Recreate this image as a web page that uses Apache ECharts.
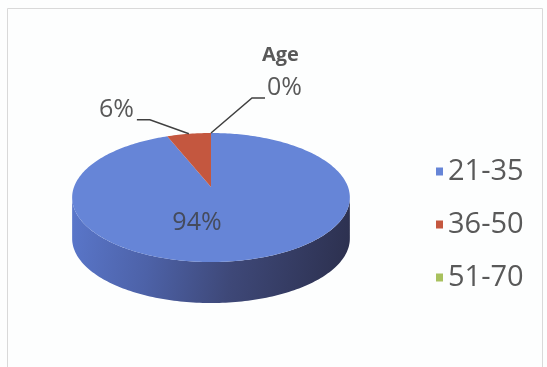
<!DOCTYPE html>
<html><head><meta charset="utf-8">
<script src="https://cdn.jsdelivr.net/npm/echarts@6/dist/echarts.min.js"></script>
<style>html,body{margin:0;padding:0;background:#fdfefe}#c{width:547px;height:367px}</style>
</head><body><div id="c"></div>
<script>
const title = 'Age';
const categories = ['21-35', '36-50', '51-70'];
const values = [94, 6, 0];
const colors = ['#6685d7', '#c4573f', '#a8c15e'];

const FONT = '"Open Sans", sans-serif';
const TEXT = '#595959';
// perspective pie layout: apex (cx,cy), radii, perspective factor, thickness
const PIE = { cx: 211, cy: 187, rx: 137, ry: 62.8, p: 0.163, depth: 41 };
const total = values.reduce((a, b) => a + b, 0);
const starts = [];
let acc = 0;
values.forEach(v => { starts.push(acc); acc += v; });

function pt(th, dy) {
  const f = 1 + PIE.p * Math.cos(th);
  return [PIE.cx + PIE.rx * Math.sin(th) / f, PIE.cy - PIE.ry * Math.cos(th) / f + (dy || 0)];
}
function arc(a, b, dy) {
  const n = Math.max(2, Math.ceil(Math.abs(b - a) / 0.02));
  const out = [];
  for (let k = 0; k <= n; k++) out.push(pt(a + (b - a) * k / n, dy));
  return out;
}
function sideFill() {
  return new echarts.graphic.LinearGradient(0, 0, 1, 0.4, [
    { offset: 0, color: '#5a77cb' },
    { offset: 0.3, color: '#4d62a8' },
    { offset: 0.6, color: '#3e4878' },
    { offset: 1, color: '#2d3150' }
  ]);
}
const FRONT0 = Math.acos(-PIE.p), FRONT1 = 2 * Math.PI - Math.acos(-PIE.p);

function renderItem(params, api) {
  const i = params.dataIndex;
  const v = api.value(0);
  const a = starts[i] / total * 2 * Math.PI;
  const b = (starts[i] + v) / total * 2 * Math.PI;
  const children = [];
  const s = Math.max(a, FRONT0), e = Math.min(b, FRONT1);
  if (e > s) {
    children.push({ type: 'polygon', z2: 1,
      shape: { points: arc(s, e, 0).concat(arc(e, s, PIE.depth)) },
      style: { fill: sideFill() } });
  }
  if (b > a) {
    children.push({ type: 'polygon', z2: 2,
      shape: { points: [[PIE.cx, PIE.cy]].concat(arc(a, b, 0)) },
      style: { fill: colors[i] } });
  }
  const pct = Math.round(v / total * 100) + '%';
  const mid = (a + b) / 2;
  if (v / total > 0.5) {
    children.push({ type: 'text', z2: 5, style: { text: pct, x: PIE.cx - 14, y: PIE.cy + 36,
      align: 'center', verticalAlign: 'middle', font: '25px ' + FONT, fill: '#454b5c' } });
  } else {
    const p0 = pt(mid, 0);
    const left = Math.sin(mid) < -1e-6;
    const p1 = left ? [p0[0] - 39, p0[1] - 14] : [p0[0] + 41, p0[1] - 35];
    const p2 = left ? [p1[0] - 13, p1[1]] : [p1[0] + 13, p1[1]];
    children.push({ type: 'polyline', z2: 4, shape: { points: [p0, p1, p2] },
      style: { stroke: '#404040', lineWidth: 1.5, fill: null } });
    children.push({ type: 'text', z2: 5, style: { text: pct, x: p2[0] + (left ? -3 : 2), y: p2[1] - 10,
      align: left ? 'right' : 'left', verticalAlign: 'middle', font: '25px ' + FONT, fill: TEXT } });
  }
  return { type: 'group', children };
}

const chart = echarts.init(document.getElementById('c'));
const legendSeries = categories.map((c, i) => ({
  type: 'custom', name: c, coordinateSystem: 'none', data: [],
  itemStyle: { color: colors[i] }, renderItem: () => null
}));
chart.setOption({
  animation: false,
  backgroundColor: '#fdfefe',
  color: colors,
  title: { text: title, left: 257, top: 40,
    textStyle: { fontFamily: FONT, fontSize: 20, fontWeight: 'bold', color: TEXT } },
  legend: {
    orient: 'vertical', left: 431, top: 152, itemGap: 24, icon: 'rect',
    itemWidth: 7, itemHeight: 8,
    textStyle: { fontFamily: FONT, fontSize: 29, color: TEXT },
    data: categories
  },
  graphic: [{ type: 'rect', shape: { x: 7.5, y: 8.5, width: 535, height: 370 },
    style: { fill: null, stroke: '#d9d9d9', lineWidth: 1 }, silent: true }],
  series: [{
    type: 'custom', name: title, coordinateSystem: 'none',
    data: values.map((v, i) => ({ name: categories[i], value: [v] })),
    renderItem
  }].concat(legendSeries)
});
</script></body></html>
